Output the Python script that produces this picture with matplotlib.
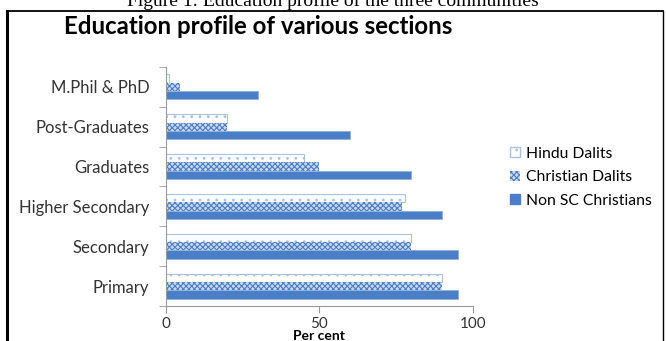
import matplotlib
matplotlib.use("Agg")
import matplotlib.pyplot as plt
from matplotlib.lines import Line2D
from matplotlib.patches import Patch
import numpy as np

# education levels, bottom to top
levels = ["Primary", "Secondary", "Higher Secondary", "Graduates",
          "Post-Graduates", "M.Phil & PhD"]
hindu_dalits = [90, 80, 78, 45, 20, 1]
christian_dalits = [90, 80, 77, 50, 20, 4.5]
non_sc_christians = [95, 95, 90, 80, 60, 30]
x_ticks = [0, 50, 100]

plt.rcParams['font.family'] = ['Lato', 'DejaVu Sans']
plt.rcParams['hatch.linewidth'] = 0.8

fig = plt.figure(figsize=(6.66, 3.41), dpi=100)
ax = fig.add_axes([0.249, 0.1026, 0.461, 0.701])

blue = '#4A7EC7'
y = np.arange(len(levels))
h = 0.21

ax.barh(y + h, hindu_dalits, height=h, color='white', edgecolor='#A9C1E2',
        hatch='..', linewidth=0.8)
ax.barh(y, christian_dalits, height=h, color='#C9D8EE', edgecolor=blue,
        hatch='xxxxxx', linewidth=0.0)
ax.barh(y - h, non_sc_christians, height=h, color=blue, edgecolor='#8FB0DC',
        linewidth=0.6)

ax.set_xlim(0, 100)
ax.set_ylim(-0.5, len(levels) - 0.5)
ax.set_xticks(x_ticks)
ax.set_xticklabels([str(v) for v in x_ticks], fontsize=11, color='#333333')
ax.set_yticks(y)
ax.set_yticklabels(levels, fontsize=12, color='#333333')
ax.set_yticks(np.arange(-0.5, len(levels)), minor=True)
ax.tick_params(axis='y', which='major', length=0, pad=12)
ax.tick_params(axis='y', which='minor', length=5, color='#999999', direction='out')
ax.tick_params(axis='x', length=5, color='#999999', direction='out', pad=3)
ax.set_xlabel('Per cent', fontsize=10, fontweight='bold', labelpad=-1)
for side in ['top', 'right']:
    ax.spines[side].set_visible(False)
for side in ['left', 'bottom']:
    ax.spines[side].set_color('#999999')
    ax.spines[side].set_linewidth(0.8)

handles = [
    Patch(facecolor='white', edgecolor='#A9C1E2', hatch='..', label='Hindu Dalits'),
    Patch(facecolor='#C9D8EE', edgecolor=blue, hatch='xxxxxx', linewidth=0,
          label='Christian Dalits'),
    Patch(facecolor=blue, edgecolor=blue, label='Non SC Christians'),
]
fig.legend(handles=handles, loc='center left', bbox_to_anchor=(0.745, 0.48),
           frameon=False, fontsize=11.3, handlelength=0.6, handleheight=0.6,
           handletextpad=0.4, labelspacing=0.6)

fig.text(0.388, 1 - 27 / 341, 'Education profile of various sections',
         ha='center', va='center', fontsize=17.3, fontweight='bold')

# figure caption above the chart frame
fig.text(0.5, 1 - 6 / 341, 'Figure 1: Education profile of the three communities',
         ha='center', va='baseline', fontsize=14, family='Liberation Serif')

# chart frame
frame = dict(transform=fig.transFigure, color='black')
fig.add_artist(Line2D([7 / 666, 7 / 666], [0, 1 - 11 / 341], linewidth=2.2, **frame))
fig.add_artist(Line2D([7 / 666, 663 / 666], [1 - 11 / 341] * 2, linewidth=1.3, **frame))
fig.add_artist(Line2D([663 / 666, 663 / 666], [0, 1 - 11 / 341], linewidth=1.0, **frame))

fig.savefig('out.png', dpi=100)
